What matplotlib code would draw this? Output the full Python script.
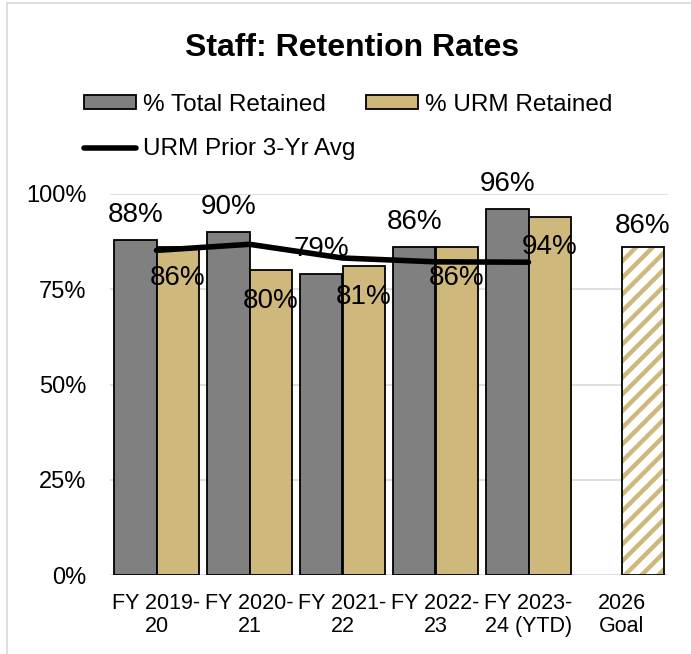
import matplotlib
matplotlib.use("Agg")
import matplotlib.pyplot as plt
from matplotlib.lines import Line2D
from matplotlib.patches import Patch
import numpy as np

plt.rcParams['font.family'] = ['Liberation Sans', 'DejaVu Sans']

categories = ["FY 2019-\n20", "FY 2020-\n21", "FY 2021-\n22", "FY 2022-\n23", "FY 2023-\n24 (YTD)", "2026\nGoal"]
total_retained = [88, 90, 79, 86, 96]
urm_retained = [86, 80, 81, 86, 94]
urm_prior_avg = [85.2, 86.8, 83.2, 82.2, 82.1]
goal_value = 86
y_ticks = [0, 25, 50, 75, 100]

GREY = "#808080"
GOLD = "#CFB87C"

fig = plt.figure(figsize=(6.91, 6.54), dpi=100)
ax = fig.add_axes([110/691, 1-575/654, (668-110)/691, (575-194)/654])

n = len(total_retained)
x = np.arange(n)
w = 0.458
off = 0.229

ax.bar(x - off, total_retained, width=w, color=GREY, edgecolor="black", linewidth=1.3, zorder=3)
ax.bar(x + off, urm_retained, width=w, color=GOLD, edgecolor="black", linewidth=1.3, zorder=3)

plt.rcParams['hatch.linewidth'] = 3.2
gx = len(categories) - 1 + off
ax.bar([gx], [goal_value], width=w, color="white", edgecolor=GOLD, hatch="//", linewidth=0, zorder=3)
ax.bar([gx], [goal_value], width=w, fill=False, edgecolor="black", linewidth=1.3, zorder=4)

ax.plot(x, urm_prior_avg, color="black", linewidth=4, solid_capstyle="round", zorder=5)

lab_fs = 20
for i, v in enumerate(total_retained):
    ax.text(i - off, v + 6.6, f"{v}%", ha="center", va="center", fontsize=lab_fs, zorder=6, clip_on=False)
for i, v in enumerate(urm_retained):
    ax.text(i + off, v - 8.0, f"{v}%", ha="center", va="center", fontsize=lab_fs, zorder=6, clip_on=False)
ax.text(gx, goal_value + 5.6, f"{goal_value}%", ha="center", va="center", fontsize=lab_fs, zorder=6, clip_on=False)

ax.set_xlim(-0.5, len(categories) - 0.5)
ax.set_ylim(0, 100)
ax.set_yticks(y_ticks)
ax.set_yticklabels([f"{t}%" for t in y_ticks], fontsize=17)
ax.set_xticks(np.arange(len(categories)))
ax.set_xticklabels(categories, fontsize=15.5, linespacing=1.15)
ax.tick_params(axis="both", length=0)
ax.tick_params(axis="y", pad=17)
ax.tick_params(axis="x", pad=13)
ax.grid(axis="y", color="#D9D9D9", linewidth=1.2, zorder=0)
for s in ax.spines.values():
    s.set_visible(False)

fig.text(352/691, 1-48/654, "Staff: Retention Rates", ha="center", va="center", fontsize=23, fontweight="bold")

handles = [Patch(facecolor=GREY, edgecolor="black", linewidth=1.3),
           Line2D([0], [0], color="black", linewidth=4, solid_capstyle="round"),
           Patch(facecolor=GOLD, edgecolor="black", linewidth=1.3)]
labels = ["% Total Retained", "URM Prior 3-Yr Avg", "% URM Retained"]
fig.legend(handles, labels, loc="upper left", bbox_to_anchor=(84/691, 1-94/654), ncol=2,
           frameon=False, fontsize=17.5, handlelength=2.14, handleheight=0.5, handletextpad=0.3,
           columnspacing=0.42, labelspacing=0.92, borderpad=0, borderaxespad=0)

# chart-area border (light grey)
fig.add_artist(Line2D([7/691, 7/691], [0, 1-3/654], color="#D9D9D9", linewidth=1.2))
fig.add_artist(Line2D([7/691, 1], [1-3/654, 1-3/654], color="#D9D9D9", linewidth=1.2))

fig.savefig("out.png", dpi=100)
